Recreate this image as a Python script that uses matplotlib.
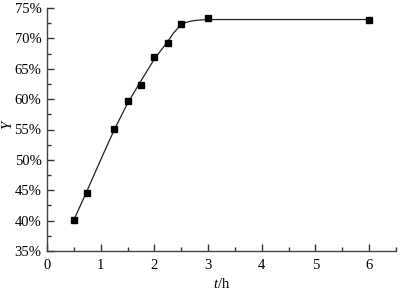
import matplotlib
matplotlib.use("Agg")
import matplotlib.pyplot as plt
from matplotlib.ticker import MultipleLocator, FuncFormatter

# measured data points
t_pts = [0.5, 0.75, 1.25, 1.5, 1.75, 2.0, 2.25, 2.5, 3.0, 6.0]
y_pts = [40.1, 44.5, 55.1, 59.7, 62.4, 66.9, 69.3, 72.3, 73.4, 73.1]

# fitted curve
t_fit = [0.5, 0.75, 1.0, 1.25, 1.5, 1.75, 2.0, 2.25, 2.35, 2.45, 2.5, 2.55, 2.6, 2.7, 2.8, 2.9, 3.0, 3.25, 3.5, 4.0, 5.0, 6.0]
y_fit = [40.1, 45.0, 50.0, 54.9, 59.3, 63.0, 66.6, 69.5, 70.8, 71.8, 72.2, 72.45, 72.65, 72.87, 72.98, 73.05, 73.1, 73.1, 73.1, 73.1, 73.1, 73.1]

x_ticks = [0, 1, 2, 3, 4, 5, 6]
y_ticks = [35, 40, 45, 50, 55, 60, 65, 70, 75]

plt.rcParams['font.family'] = ['Liberation Serif', 'DejaVu Serif']
plt.rcParams['mathtext.fontset'] = 'custom'
plt.rcParams['mathtext.it'] = 'Liberation Serif:italic'
plt.rcParams['mathtext.rm'] = 'Liberation Serif'

fig = plt.figure(figsize=(4.06, 2.96), dpi=100)
ax = fig.add_axes([0.1158, 0.152, 0.975 - 0.1158, 0.973 - 0.152])

ax.plot(t_fit, y_fit, color='#222222', lw=0.9)
ax.plot(t_pts, y_pts, 's', color='black', ms=4.3, mec='black')

ax.set_xlim(0, 6.5)
ax.set_ylim(35, 75)
ax.set_xticks(x_ticks)
ax.set_yticks(y_ticks)
ax.xaxis.set_minor_locator(MultipleLocator(0.5))
ax.yaxis.set_minor_locator(MultipleLocator(2.5))
ax.yaxis.set_major_formatter(FuncFormatter(lambda v, p: f"{int(round(v))}%"))

for s in ['top', 'right']:
    ax.spines[s].set_visible(False)
for s in ['left', 'bottom']:
    ax.spines[s].set_color('#444444')
    ax.spines[s].set_linewidth(1.0)

ax.tick_params(which='major', direction='in', length=5, width=1, color='#333333', labelsize=10.5)
ax.tick_params(axis='x', which='major', pad=6)
ax.tick_params(axis='y', which='major', pad=4)
ax.tick_params(which='minor', direction='in', length=3, width=1, color='#333333')

ax.set_xlabel(r'$t$/h', fontsize=10.5, labelpad=3)
ax.set_ylabel(r'$Y$', fontsize=10.5)
ax.yaxis.set_label_coords(-0.092, 0.52)

fig.savefig('out.png', dpi=100)
